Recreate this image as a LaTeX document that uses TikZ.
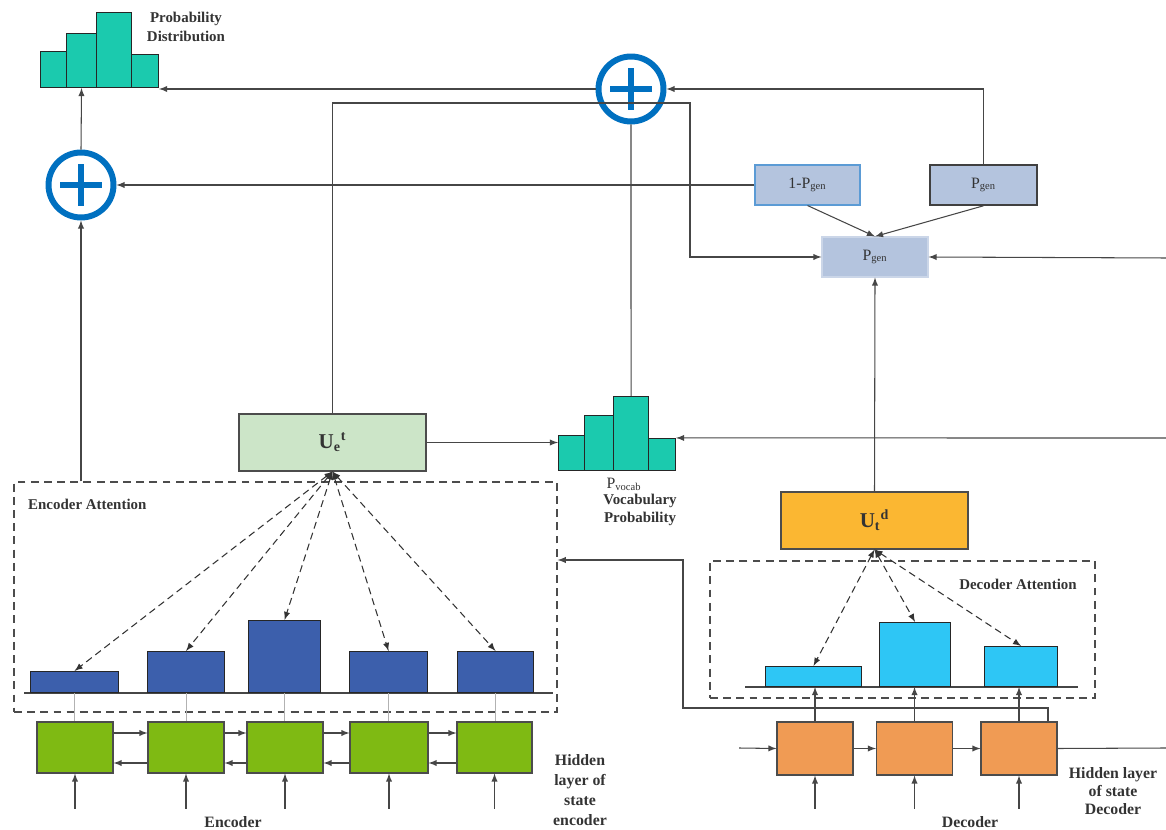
\documentclass[tikz,border=0pt]{standalone}
\usepackage{fontspec}
\setmainfont{Liberation Serif}
\usetikzlibrary{arrows,calc}
\usepackage{tkz-euclide}
\definecolor{TealClr}{RGB}{27,202,174}
\definecolor{RingClr}{RGB}{0,112,192}
\definecolor{UeClr}{RGB}{204,229,200}
\definecolor{GenClr}{RGB}{180,196,222}
\definecolor{GenEdge}{RGB}{91,155,213}
\definecolor{EncBar}{RGB}{60,95,172}
\definecolor{EncCell}{RGB}{127,186,19}
\definecolor{UdClr}{RGB}{251,183,50}
\definecolor{DecBar}{RGB}{46,198,245}
\definecolor{DecCell}{RGB}{240,155,84}
\definecolor{WireClr}{RGB}{70,70,70}

\tikzset{
  wire/.style={draw=WireClr,line width=.6pt},
  arr/.style={wire,-latex},
  att/.style={draw=black!80,line width=.6pt,dash pattern=on 4pt off 2.5pt,latex-latex},
  frame/.style={draw=black!70,line width=.8pt,dash pattern=on 4.5pt off 3pt},
  box/.style 2 args={draw=black!70,line width=.6pt,inner sep=0pt,
    minimum width=#1*0.02cm,minimum height=#2*0.02cm},
  bar/.style 2 args={draw=black!85,line width=.6pt,inner sep=0pt,anchor=south west,
    minimum width=#1*0.02cm,minimum height=#2*0.02cm},
  plus/.style={circle,draw=RingClr,line width=3.4pt,minimum size=1.3cm,
    path picture={\draw[RingClr,line width=3.4pt]
      ([xshift=-0.42cm]path picture bounding box.center) -- ([xshift=0.42cm]path picture bounding box.center)
      ([yshift=-0.42cm]path picture bounding box.center) -- ([yshift=0.42cm]path picture bounding box.center);}},
  lbl/.style={font=\fontsize{8.5}{10.5}\selectfont\bfseries,align=center,text=black!80},
  sym/.style={font=\fontsize{9}{11}\selectfont,text=black!80},
}

\begin{document}
\begin{tikzpicture}[x=0.02cm,y=-0.02cm]
\useasboundingbox (0,0) rectangle (1166,830);

\tkzDefPoints{690/103/K1,683/560/K2,1048/708/K3,1166/258/R1,1166/438/R2,739/748/R3,1166/748/R4}

% sums
\node[plus] (plusA) at (81,185) {};
\node[plus] (plusB) at (631,89) {};

% probability distribution
\foreach \n/\x/\w/\h in {1/40/26/36,2/66/30/54,3/96/35/75,4/131/27/33}
  \node[bar={\w}{\h},fill=TealClr] (pd\n) at (\x,88) {};
\node[lbl] (pdlbl) at (186,27) {Probability\\Distribution};

% generation probability
\node[box={105}{40},fill=GenClr,draw=GenEdge,sym] (pm) at (807.5,185) {1-P\textsubscript{gen}};
\node[box={107}{40},fill=GenClr,draw=black!75,line width=.9pt,sym] (pr) at (983.5,185) {P\textsubscript{gen}};
\node[box={106}{40},fill=GenClr,draw=GenClr!70!white,sym] (pg) at (875,257) {P\textsubscript{gen}};

% context vectors
\node[box={187}{57},fill=UeClr,font=\fontsize{12}{14}\selectfont\bfseries,text=black!80] (ue) at (332.5,442.5) {U\textsubscript{e}\textsuperscript{t}};
\node[box={187}{57},fill=UdClr,font=\fontsize{12}{14}\selectfont\bfseries,text=black!80] (ud) at (874.5,520.5) {U\textsubscript{t}\textsuperscript{d}};

% vocabulary distribution
\foreach \n/\x/\w/\h in {1/558/26/35,2/584/29/55,3/613/35/74,4/648/27/32}
  \node[bar={\w}{\h},fill=TealClr] (pv\n) at (\x,471) {};
\node[sym] (pvsym) at (624,484) {P\textsubscript{vocab}};
\node[lbl] (pvlbl) at (640,510) {Vocabulary\\Probability};

% encoder attention
\node[box={543}{230},frame] (encatt) at (285.5,597) {};
\node[lbl,anchor=west] (enclbl) at (22,504) {Encoder Attention};
\draw[WireClr,line width=.6pt] (24,693) -- (553,693);
\foreach \n/\x/\w/\h in {1/30/88/21,2/147/77/41,3/248/72/72,4/349/78/41,5/457/76/41}
  \node[bar={\w}{\h},fill=EncBar] (eb\n) at (\x,693) {};

% encoder cells
\foreach \n/\x/\w in {1/75/76,2/186/76,3/285/76,4/389/78,5/494.5/75}
  \node[box={\w}{51},fill=EncCell,draw=black!70] (he\n) at (\x,747.5) {};
\node[lbl,font=\fontsize{9}{11}\selectfont\bfseries] (enc) at (233,822) {Encoder};
\node[lbl,font=\fontsize{9}{11.3}\selectfont\bfseries] (enchid) at (580,790) {Hidden\\layer of\\state\\encoder};

% decoder attention
\node[box={385}{137},frame] (decatt) at (902.5,629.5) {};
\node[lbl] (declbl) at (1018,584) {Decoder Attention};
\draw[WireClr,line width=.6pt] (745,687) -- (1078,687);
\foreach \n/\x/\w/\h in {1/765/96/20,2/879/71/64,3/984/73/40}
  \node[bar={\w}{\h},fill=DecBar] (db\n) at (\x,687) {};

% decoder cells
\foreach \n/\x in {1/815,2/914.5,3/1019}
  \node[box={76}{53},fill=DecCell,draw=black!70] (hd\n) at (\x,748.5) {};
\node[lbl,font=\fontsize{9}{11}\selectfont\bfseries] (dec) at (970,822) {Decoder};
\node[lbl,font=\fontsize{9}{10.3}\selectfont\bfseries] (dechid) at (1113,791) {Hidden layer\\of state\\Decoder};

% connectors
\draw[arr] (plusA |- encatt.north) -- (plusA.south);
\draw[arr] (plusA.north) -- (pd2.south);
\draw[arr] (pm.west) -- (plusA.east);
\draw[arr] (pr.north) |- (plusB.east);
\draw[arr] (plusB.west) -- (plusB.west -| pd4.east);
\draw[wire] (pv3.north) -- (plusB.south);
\draw[arr] (ue.north) |- (K1) |- (pg.west);
\draw[arr] (pm.south) -- (pg.north);
\draw[arr] (pr.south) -- (pg.north);
\draw[arr] (R1) -- (pg.east);
\draw[arr] (ud.north) -- (pg.south);
\draw[arr] (ue.east) -- (ue.east -| pv1.west);
\draw[arr] (R2) -- (pv4.north east);

\foreach \i in {1,...,5} \draw[att] (ue.south) -- (eb\i.north);
\foreach \i in {1,2,3} \draw[att] (ud.south) -- (db\i.north);

\foreach \i in {1,...,5}{
  \draw[black!30,line width=.5pt] (eb\i.south) -- (eb\i.south |- he\i.north);
  \coordinate (ei\i) at ($(he\i.south)+(0,35)$);
  \draw[arr] (ei\i) -- (he\i.south);
}
\foreach \i/\j in {1/2,2/3,3/4,4/5}{
  \draw[arr] ($(he\i.east)+(0,-14.5)$) -- ($(he\j.west)+(0,-14.5)$);
  \draw[arr] ($(he\j.west)+(0,15.5)$) -- ($(he\i.east)+(0,15.5)$);
}

\foreach \i in {1,2,3}{
  \draw[arr] (hd\i.north) -- (hd\i.north |- db\i.south);
  \coordinate (di\i) at ($(hd\i.south)+(0,33)$);
  \draw[arr] (di\i) -- (hd\i.south);
}
\draw[arr] (R3) -- (hd1.west);
\draw[arr] (hd1.east) -- (hd2.west);
\draw[arr] (hd2.east) -- (hd3.west);
\draw[wire] (hd3.east) -- (R4);
\draw[arr] (hd3.north -| K3) -- (K3) -| (K2) -- (K2 -| encatt.east);
\end{tikzpicture}
\end{document}
